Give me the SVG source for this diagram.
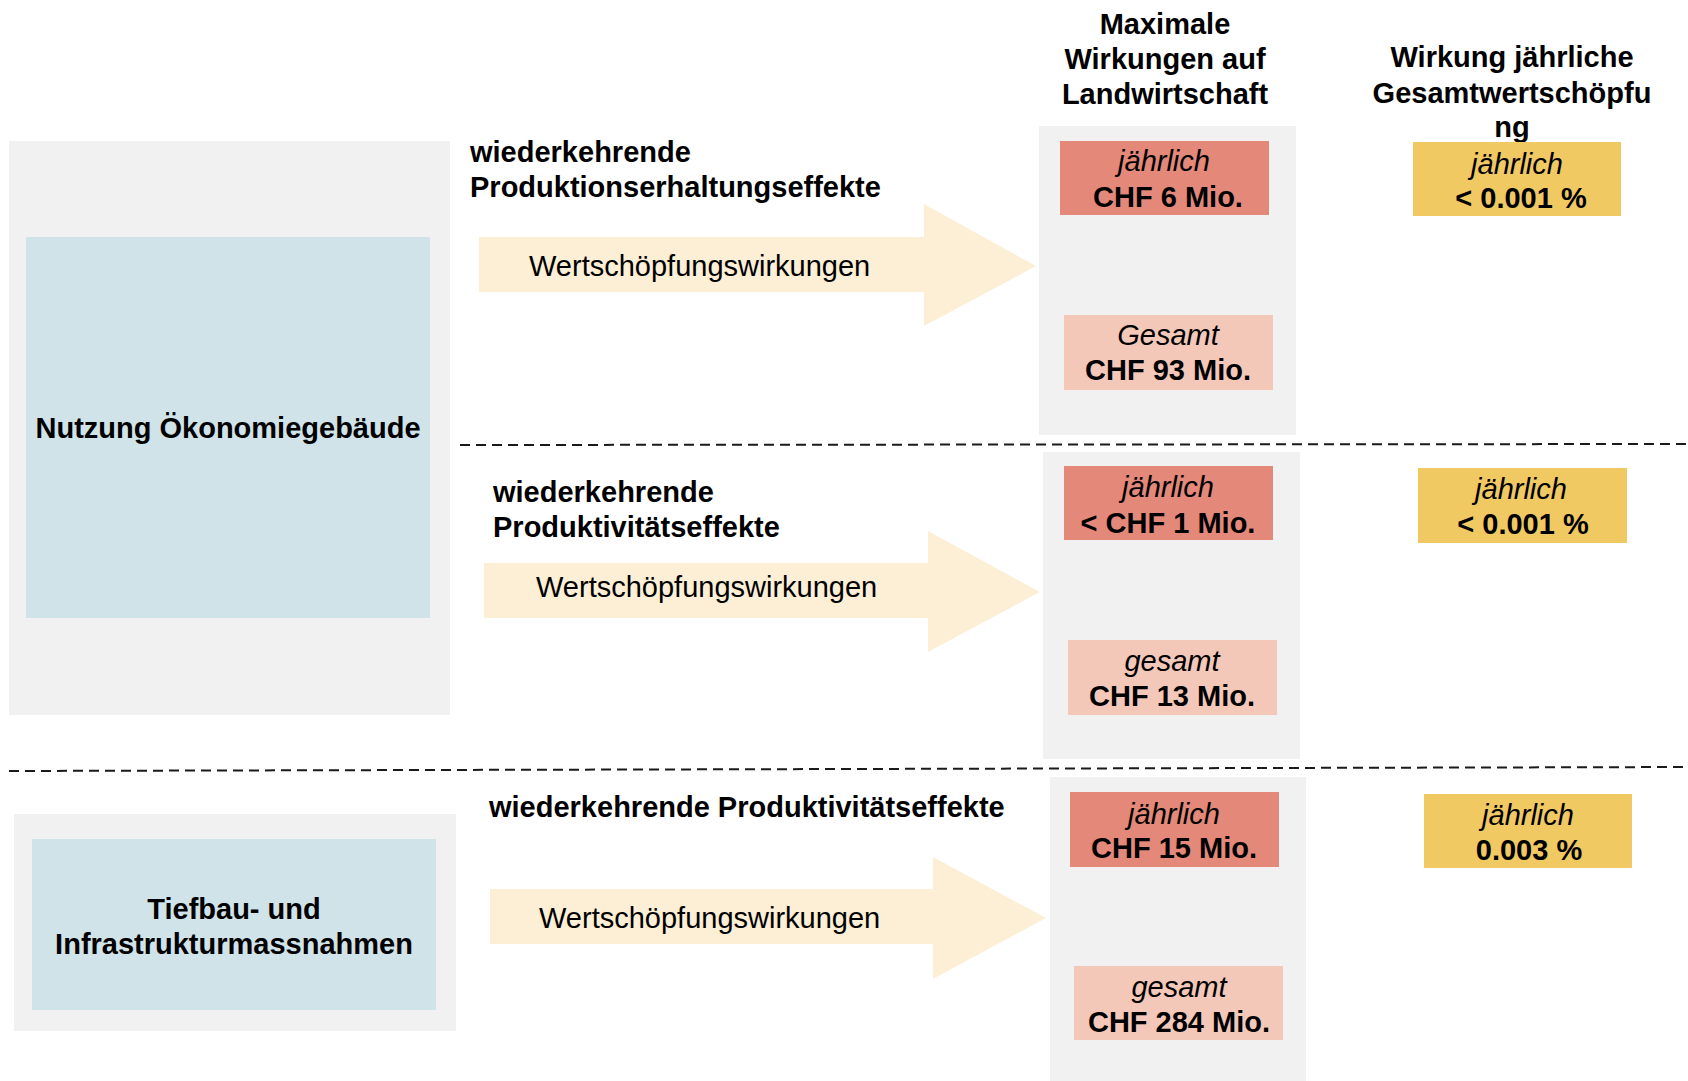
<svg xmlns="http://www.w3.org/2000/svg" width="1688" height="1081" viewBox="0 0 1688 1081">
<style>
text{font-family:"Liberation Sans",Arial,sans-serif;font-size:29px;fill:#000}
.b{font-weight:bold}
.i{font-style:italic}
.c{text-anchor:middle}
.panel{fill:#f1f1f1}
.blue{fill:#cfe3e8}
.red{fill:#e4887a}
.pink{fill:#f4c8b9}
.yel{fill:#f1c962}
.arrow{fill:#fcefd6}
.dash{stroke:#1a1a1a;stroke-width:2;stroke-dasharray:10 6;fill:none}
</style>
<rect width="1688" height="1081" fill="#fff"/>
<g id="headers">
<text class="b c" x="1165" y="34">Maximale</text>
<text class="b c" x="1165" y="69">Wirkungen auf</text>
<text class="b c" x="1165" y="104">Landwirtschaft</text>
<text class="b c" x="1512" y="67">Wirkung jährliche</text>
<text class="b c" x="1512" y="103">Gesamtwertschöpfu</text>
<text class="b c" x="1512" y="137">ng</text>
</g>
<g id="node-oekonomie">
<rect class="panel" x="9" y="141" width="441" height="574"/>
<rect class="blue" x="26" y="237" width="404" height="381"/>
<text class="b c" x="228" y="438">Nutzung Ökonomiegebäude</text>
</g>
<g id="node-tiefbau">
<rect class="panel" x="14" y="814" width="442" height="217"/>
<rect class="blue" x="32" y="839" width="404" height="171"/>
<text class="b c" x="234" y="919">Tiefbau- und</text>
<text class="b c" x="234" y="954">Infrastrukturmassnahmen</text>
</g>
<g id="connectors">
<path class="arrow" d="M479 237H924V204L1036 266L924 326V292H479Z"/>
<path class="arrow" d="M484 563H928V531L1040 592L928 652V618H484Z"/>
<path class="arrow" d="M490 889H933V857L1046 918L933 979V944H490Z"/>
<line class="dash" x1="460" y1="445" x2="1688" y2="444"/>
<line class="dash" x1="9" y1="771" x2="1688" y2="767"/>
</g>
<g id="label-row1">
<text class="b" x="470" y="162">wiederkehrende</text>
<text class="b" x="470" y="197">Produktionserhaltungseffekte</text>
<text x="529" y="276">Wertschöpfungswirkungen</text>
</g>
<g id="label-row2">
<text class="b" x="493" y="502">wiederkehrende</text>
<text class="b" x="493" y="537">Produktivitätseffekte</text>
<text x="536" y="597">Wertschöpfungswirkungen</text>
</g>
<g id="label-row3">
<text class="b" x="489" y="817">wiederkehrende Produktivitätseffekte</text>
<text x="539" y="928">Wertschöpfungswirkungen</text>
</g>
<g id="col-landwirtschaft-1">
<rect class="panel" x="1039" y="126" width="257" height="309"/>
<rect class="red" x="1060" y="141" width="209" height="74"/>
<text class="i c" x="1164" y="171">jährlich</text>
<text class="b c" x="1168" y="207">CHF 6 Mio.</text>
<rect class="pink" x="1064" y="315" width="209" height="75"/>
<text class="i c" x="1168" y="345">Gesamt</text>
<text class="b c" x="1168" y="380">CHF 93 Mio.</text>
</g>
<g id="col-landwirtschaft-2">
<rect class="panel" x="1043" y="452" width="257" height="307"/>
<rect class="red" x="1064" y="466" width="209" height="74"/>
<text class="i c" x="1168" y="497">jährlich</text>
<text class="b c" x="1168" y="533">&lt; CHF 1 Mio.</text>
<rect class="pink" x="1068" y="640" width="209" height="75"/>
<text class="i c" x="1172" y="671">gesamt</text>
<text class="b c" x="1172" y="706">CHF 13 Mio.</text>
</g>
<g id="col-landwirtschaft-3">
<rect class="panel" x="1050" y="777" width="256" height="304"/>
<rect class="red" x="1070" y="792" width="209" height="75"/>
<text class="i c" x="1174" y="824">jährlich</text>
<text class="b c" x="1174" y="858">CHF 15 Mio.</text>
<rect class="pink" x="1074" y="966" width="209" height="74"/>
<text class="i c" x="1179" y="997">gesamt</text>
<text class="b c" x="1179" y="1032">CHF 284 Mio.</text>
</g>
<g id="col-gesamt-1">
<rect class="yel" x="1413" y="142" width="208" height="74"/>
<text class="i c" x="1517" y="174">jährlich</text>
<text class="b c" x="1521" y="208">&lt; 0.001 %</text>
</g>
<g id="col-gesamt-2">
<rect class="yel" x="1418" y="468" width="209" height="75"/>
<text class="i c" x="1521" y="499">jährlich</text>
<text class="b c" x="1523" y="534">&lt; 0.001 %</text>
</g>
<g id="col-gesamt-3">
<rect class="yel" x="1424" y="794" width="208" height="74"/>
<text class="i c" x="1528" y="825">jährlich</text>
<text class="b c" x="1529" y="860">0.003 %</text>
</g>
</svg>
